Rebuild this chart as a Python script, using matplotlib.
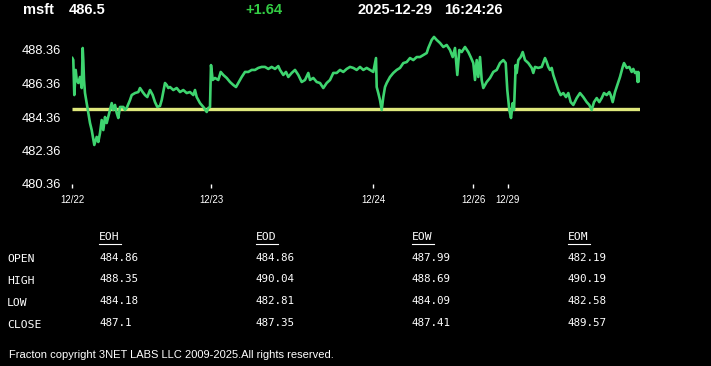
import matplotlib
matplotlib.use("Agg")
import matplotlib.pyplot as plt
from matplotlib.lines import Line2D

# ---------------- data ----------------
symbol = "msft"
last_price = "486.5"
change = "+1.64"
date_str = "2025-12-29"
time_str = "16:24:26"

# intraday series: position index (bar slot) and price
pos = [0.3, 1.3, 2.3, 3.7, 4.7, 6.3, 8, 9.7, 10.7, 11.3, 12, 13, 14.7, 16.3, 18, 19.7,
       21.3, 22.3, 24.7, 26.3, 28, 29.7, 31.3, 33, 34.7, 38, 39.7, 41.3, 43, 44.7, 46.3,
       48, 51.3, 53, 54.7, 58, 59.7, 63, 66.3, 68, 70.7, 73, 75.3, 78, 80.7, 83, 85.3,
       88, 89.7, 91.3, 93, 94.7, 96.3, 98, 101.3, 104.7, 108, 111.3, 114.7, 118, 121.3,
       123, 124.7, 128, 131.3, 134.7, 136.3, 138, 139, 140.7, 143, 146.3, 148.7, 151.3,
       154.7, 158, 161.3, 164, 166.3, 169.7, 173, 176.3, 179.7, 183, 186.3, 189.7, 193,
       196.3, 199.7, 203, 206.3, 208, 211.3, 214, 216.3, 219.7, 223, 226.3, 229.7, 233,
       236.3, 238, 241.3, 244.7, 248, 251.3, 254.7, 258, 261.3, 264.7, 268, 271.3, 274.7,
       278, 281.3, 284.7, 288, 291.3, 294.7, 298, 301.3, 304, 304.7, 306.3, 308, 309.7,
       311.3, 313, 314.7, 318, 321.3, 324.7, 328, 331.3, 334.7, 338, 341.3, 344.7, 348,
       351.3, 354.7, 356.3, 359.7, 362, 364.7, 368, 371.3, 374.7, 378, 380.7, 383, 385.3,
       387.3, 389.7, 393, 396.3, 398.7, 401.3, 403, 404.7, 406.3, 408, 409.7, 411.3,
       414.7, 418, 421.3, 424.7, 428, 431.3, 433.7, 435.3, 437.3, 439, 440.7, 442, 443.7,
       444.7, 446.3, 448.7, 450.7, 453, 456.3, 459.7, 461.3, 463, 466.3, 469.7, 473,
       474.7, 476.3, 478, 479.7, 481.3, 484.7, 486.3, 488.7, 491.3, 494, 496.3, 498.7,
       501.3, 504.7, 508, 511.3, 514.7, 517.3, 519.7, 522, 524.7, 527.3, 529.7, 532,
       534.7, 537.3, 538.7, 540.7, 543, 545.3, 548, 550.7, 552, 554.7, 557.3, 559.7,
       561.3, 563, 564.7, 565.7, 566.3, 567]
price = [487.88, 487.76, 485.67, 487.17, 486.57, 486.39, 486.75, 486.09, 488.48, 487.76,
         486.57, 485.79, 485.19, 484.60, 484.00, 483.58, 483.03, 482.69, 483.17, 482.87,
         483.40, 484.18, 483.58, 484.36, 484.00, 484.78, 485.19, 484.78, 485.08, 484.60,
         484.30, 484.96, 484.96, 484.78, 484.90, 485.37, 485.67, 485.79, 485.85, 486.09,
         485.85, 485.67, 485.55, 485.97, 485.67, 485.25, 484.96, 485.02, 485.37, 485.85,
         486.39, 486.27, 486.09, 486.15, 485.97, 486.09, 485.85, 485.97, 485.79, 485.85,
         485.67, 485.97, 485.55, 485.19, 484.96, 484.66, 484.90, 484.96, 487.46, 486.57,
         486.69, 486.57, 487.05, 486.87, 486.69, 486.45, 486.27, 486.15, 486.39, 486.75,
         487.05, 487.05, 487.17, 487.17, 487.29, 487.35, 487.35, 487.23, 487.35, 487.23,
         487.40, 487.17, 486.87, 487.05, 486.75, 486.99, 487.17, 486.87, 486.45, 486.57,
         486.99, 486.57, 486.69, 486.45, 486.39, 486.09, 486.39, 486.57, 486.99, 486.99,
         487.17, 487.05, 487.23, 487.35, 487.29, 487.17, 487.35, 487.17, 487.29, 487.17,
         487.05, 487.88, 486.15, 485.79, 485.37, 484.78, 485.55, 486.15, 486.39, 486.75,
         486.99, 487.17, 487.29, 487.58, 487.64, 487.88, 487.76, 487.94, 487.94, 488.06,
         488.18, 488.48, 488.96, 489.14, 488.96, 488.78, 488.54, 488.66, 488.36, 487.94,
         488.48, 486.87, 488.36, 488.24, 488.54, 488.24, 487.94, 487.58, 486.57, 487.76,
         486.75, 487.94, 486.57, 486.09, 486.45, 486.69, 487.05, 487.17, 487.58, 487.76,
         487.58, 485.97, 484.78, 484.30, 485.19, 484.78, 487.46, 486.99, 487.76, 487.94,
         488.24, 487.76, 487.58, 487.29, 486.99, 487.35, 487.29, 487.35, 487.88, 487.64,
         487.35, 487.17, 487.29, 486.87, 486.27, 485.97, 485.67, 485.79, 485.55, 485.79,
         485.25, 485.08, 485.49, 485.79, 485.55, 485.25, 485.08, 484.78, 485.25, 485.49,
         485.25, 485.49, 485.79, 485.67, 485.85, 485.67, 485.25, 485.85, 486.27, 486.75,
         487.35, 487.58, 487.29, 487.35, 487.05, 487.23, 486.99, 487.05, 486.45, 487.05,
         486.50]
ref_level = 484.86
ref_span = [0, 568]

y_ticks = [480.36, 482.36, 484.36, 486.36, 488.36]
x_tick_pos = [0, 139, 301, 401, 436]
x_tick_labels = ["12/22", "12/23", "12/24", "12/26", "12/29"]

table_cols = ["EOH", "EOD", "EOW", "EOM"]
table_rows = ["OPEN", "HIGH", "LOW", "CLOSE"]
table_vals = [["484.86", "484.86", "487.99", "482.19"],
              ["488.35", "490.04", "488.69", "490.19"],
              ["484.18", "482.81", "484.09", "482.58"],
              ["487.1", "487.35", "487.41", "489.57"]]
footer = "Fracton copyright 3NET LABS LLC 2009-2025.All rights reserved."

# ---------------- figure ----------------
W, H = 711, 366
fig = plt.figure(figsize=(W / 100, H / 100), dpi=100, facecolor="black")


def fx(x):
    return x / W


def fy(y):
    return 1 - y / H


ax_l, ax_r, ax_t, ax_b = 72, 640, 35, 188
ax = fig.add_axes([fx(ax_l), fy(ax_b), (ax_r - ax_l) / W, (ax_b - ax_t) / H])
ax.set_facecolor("black")
for s in ax.spines.values():
    s.set_visible(False)

px_per_unit = 16.75
ax.set_ylim(488.36 - (ax_b - 50) / px_per_unit, 488.36 + (50 - ax_t) / px_per_unit)
ax.set_xlim(0, ax_r - ax_l)

ax.plot(ref_span, [ref_level, ref_level], color="#dfe87c", lw=2.4, solid_capstyle="butt", zorder=2)
ax.plot(pos, price, color="#3ed46f", lw=1.9, zorder=3)

ax.set_yticks(y_ticks)
ax.set_yticklabels([f"{v:.2f}" for v in y_ticks], fontfamily="Liberation Sans", fontsize=9.3, color="white")
ax.tick_params(axis="y", length=0, pad=8)
ax.set_xticks(x_tick_pos)
ax.set_xticklabels(x_tick_labels, fontfamily="Liberation Sans", fontsize=7, color="white")
ax.tick_params(axis="x", direction="in", length=3, width=1, color="white", pad=5)

# ---------------- header ----------------
hdr = dict(fontfamily="Liberation Sans", fontweight="bold", fontsize=10.5, va="center", ha="left")
fig.text(fx(23), fy(9.5), symbol, color="white", **hdr)
fig.text(fx(69), fy(9.5), last_price, color="white", **hdr)
fig.text(fx(245), fy(9.5), change, color="#33cc44", **hdr)
fig.text(fx(357), fy(9.5), date_str, color="white", **hdr)
fig.text(fx(444), fy(9.5), time_str, color="white", **hdr)

# ---------------- table ----------------
col_x = [99, 256, 412, 568]
row_y = [259.5, 281, 302.5, 324.5]
mono = "DejaVu Sans Mono"
for cx, name in zip(col_x, table_cols):
    fig.text(fx(cx), fy(237.5), name, color="white", fontfamily=mono, fontsize=8.2, va="center", ha="left")
    fig.add_artist(Line2D([fx(cx), fx(cx + 22)], [fy(243.5), fy(243.5)], color="white", lw=0.8))
for ry, rname, vals in zip(row_y, table_rows, table_vals):
    fig.text(fx(7), fy(ry), rname, color="white", fontfamily=mono, fontsize=8.2, va="center", ha="left")
    for cx, v in zip(col_x, vals):
        fig.text(fx(cx), fy(ry - 1.5), v, color="white", fontfamily=mono, fontsize=7.8, va="center", ha="left")

fig.text(fx(9), fy(355), footer, color="white", fontfamily="Liberation Sans", fontsize=8.0, va="center", ha="left")

fig.savefig("out.png", dpi=100, facecolor="black")
